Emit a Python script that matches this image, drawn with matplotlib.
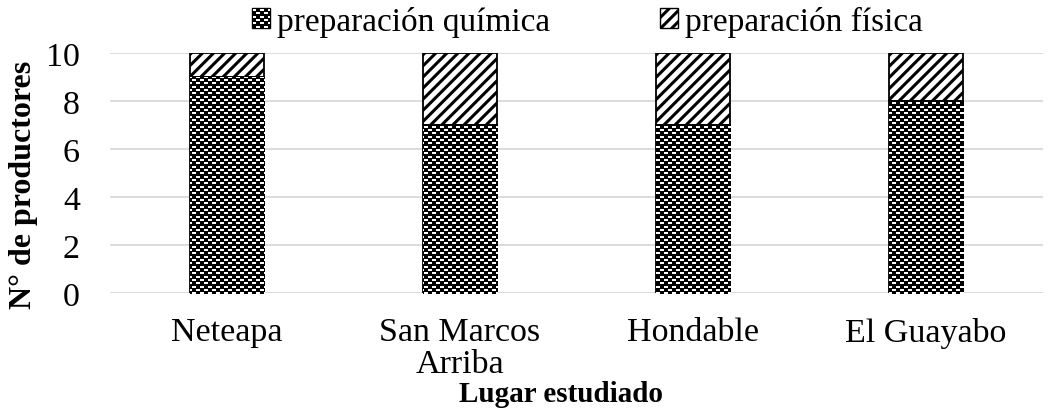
import matplotlib
matplotlib.use("Agg")
import matplotlib.pyplot as plt
from matplotlib.patches import Patch
from matplotlib.transforms import Bbox
import numpy as np

categories = ["Neteapa", "San Marcos\nArriba", "Hondable", "El Guayabo"]
quimica = [9, 7, 7, 8]
fisica = [1, 3, 3, 2]
series_names = ["preparación química", "preparación física"]

plt.rcParams['font.family'] = ['Liberation Serif', 'DejaVu Serif']
plt.rcParams['hatch.linewidth'] = 2.2

W, H = 1052, 410
fig = plt.figure(figsize=(W / 100, H / 100), dpi=100)
ax = fig.add_axes([0.105, 0.283, 0.886, 0.585])
x = np.arange(len(categories))
w = 0.32

# texture: black with white brick-like dashes (pixel pattern)
tex = np.zeros((H, W, 4))
tex[..., 3] = 1.0
yy = 0
k = 0
while yy < H:
    off = 0 if k % 2 == 0 else 4
    for xx in range(off, W, 8):
        tex[yy:yy + 2, xx:xx + 4, :3] = 1.0
    k += 1
    yy = int(round(k * 10 / 3))

bars_q = ax.bar(x, quimica, w, color='black', edgecolor='black', linewidth=0, zorder=2)
for b in bars_q:
    im = fig.figimage(tex, xo=0, yo=0, origin='upper', zorder=3)
    im.set_clip_path(b)
ax.bar(x, quimica, w, color='none', edgecolor='black', linewidth=1.3, zorder=5)
# physical: diagonal
ax.bar(x, fisica, w, bottom=quimica, color='white', edgecolor='black', hatch='///', linewidth=0, zorder=2)
ax.bar(x, fisica, w, bottom=quimica, color='none', edgecolor='black', linewidth=1.3, zorder=5)

ax.set_ylim(0, 10)
ax.set_xlim(-0.5, 3.5)
ax.set_yticks([0, 2, 4, 6, 8, 10])
ax.yaxis.grid(True, color='#d9d9d9', linewidth=1.3, zorder=0)
ax.set_axisbelow(True)
for s in ax.spines.values():
    s.set_visible(False)
ax.tick_params(length=0, labelsize=24.5)
ax.tick_params(axis='x', pad=17)
ax.tick_params(axis='y', pad=22)
ax.set_xticks(x)
ax.set_xticklabels(categories, linespacing=1.08)
ax.set_ylabel("N° de productores", fontsize=23, fontweight='bold')
ax.yaxis.set_label_coords(-0.078, 0.454)
ax.set_xlabel("Lugar estudiado", fontsize=21, fontweight='bold', va='baseline')
ax.xaxis.set_label_coords(0.483, -0.452)

h1 = Patch(facecolor='black', edgecolor='black', linewidth=1.0)
h2 = Patch(facecolor='white', edgecolor='black', hatch='///', linewidth=1.0)
leg = fig.legend([h1, h2], series_names,
                 loc='center', bbox_to_anchor=(0.558, 0.945), ncol=2, frameon=False,
                 fontsize=24, handlelength=0.55, handleheight=0.55, handletextpad=0.2,
                 columnspacing=3.3)

fig.canvas.draw()
hp = leg.legend_handles[0]
bb = hp.get_window_extent(fig.canvas.get_renderer())
im = fig.figimage(tex, xo=0, yo=0, origin='upper', zorder=10)
im.set_clip_box(Bbox.from_extents(bb.x0 + 1, bb.y0 + 1, bb.x1 - 1, bb.y1 - 1))

fig.savefig("out.png", dpi=100)
